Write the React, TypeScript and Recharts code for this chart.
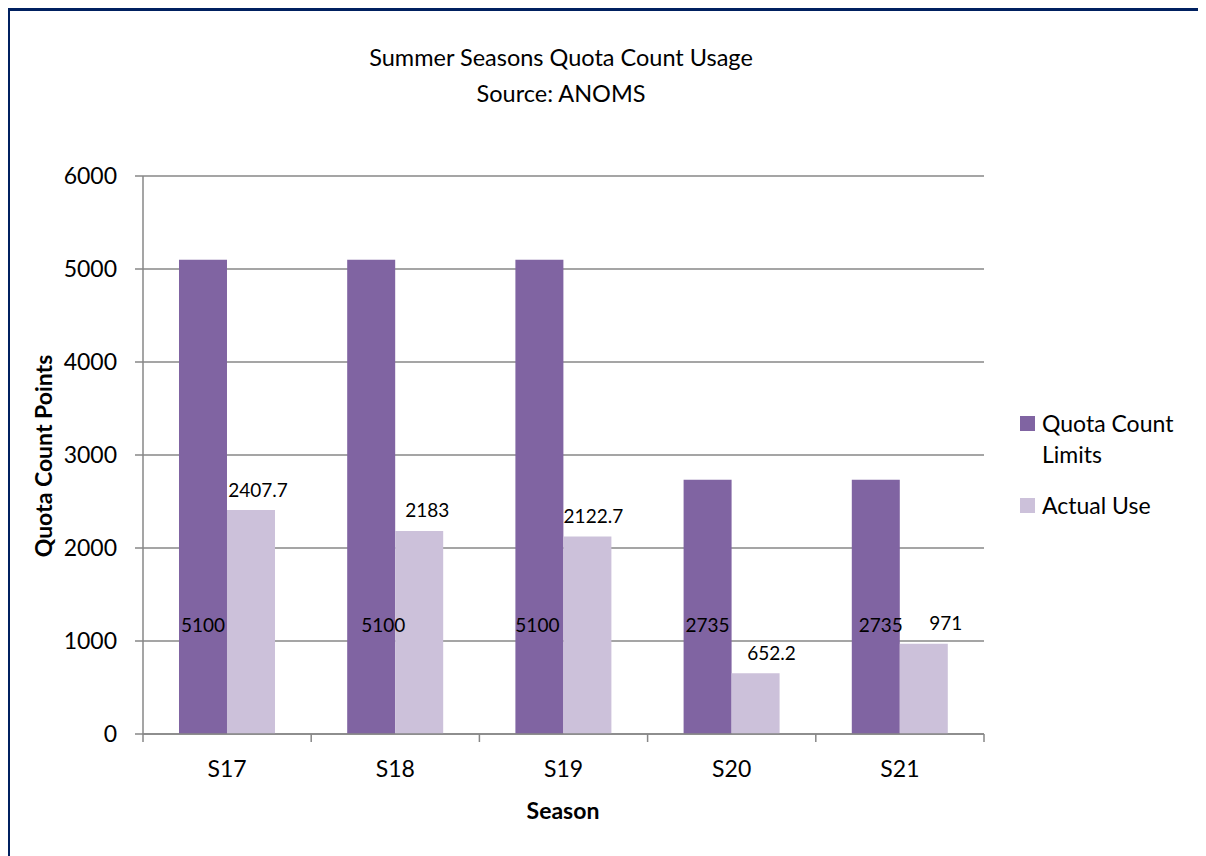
import React from 'react';
import { BarChart, Bar, XAxis, YAxis, CartesianGrid, LabelList } from 'recharts';

// chart values
const seasons = ['S17', 'S18', 'S19', 'S20', 'S21'];
const quotaLimits = [5100, 5100, 5100, 2735, 2735];
const actualUse = [2407.7, 2183, 2122.7, 652.2, 971];
const yTicks = [0, 1000, 2000, 3000, 4000, 5000, 6000];

// small nudges of the data labels, as in the original
const limitLabelShift = [0, 12, -2, 0, 5];
const actualLabelShift = [7, 8, 6, 16, 22];

const data = seasons.map((s, i) => ({ season: s, limit: quotaLimits[i], actual: actualUse[i] }));

const FONT = 'Lato, "Open Sans", sans-serif';
const PURPLE = '#8064A2';
const LILAC = '#CCC1DA';
const GRID = '#878787';

const W = 1195;
const H = 837;
const Y_W = 80;
const X_H = 40;
const margin = { top: 165, right: 221, bottom: 74, left: 53 };
const band = (W - margin.left - Y_W - margin.right) / seasons.length;

const SeasonTick = (props: any) => {
  const { x, y, payload, index } = props;
  const left = x - band / 2;
  const right = x + band / 2;
  return (
    <g>
      <line x1={left} y1={y} x2={left} y2={y + 8} stroke={GRID} strokeWidth={1.5} />
      {index === seasons.length - 1 && (
        <line x1={right} y1={y} x2={right} y2={y + 8} stroke={GRID} strokeWidth={1.5} />
      )}
      <text x={x} y={y + 34} textAnchor="middle" dominantBaseline="central" fontSize={23} fill="#000" fontFamily={FONT}>
        {payload.value}
      </text>
    </g>
  );
};

const LimitLabel = (props: any) => {
  const { x, y, width, height, value, index } = props;
  return (
    <text
      x={x + width / 2 + limitLabelShift[index]}
      y={y + height - 110}
      textAnchor="middle"
      dominantBaseline="central"
      fontSize={19}
      fontFamily={FONT}
      fill="#000"
    >
      {value}
    </text>
  );
};

const ActualLabel = (props: any) => {
  const { x, y, width, value, index } = props;
  return (
    <text
      x={x + width / 2 + actualLabelShift[index]}
      y={y - 21}
      textAnchor="middle"
      dominantBaseline="central"
      fontSize={19}
      fontFamily={FONT}
      fill="#000"
    >
      {value}
    </text>
  );
};

export default function App() {
  return (
    <div
      style={{
        position: 'relative',
        width: 1206,
        height: 860,
        marginLeft: -1,
        boxSizing: 'border-box',
        borderTop: '3px solid #002060',
        borderLeft: '3px solid #002060',
        fontFamily: FONT,
        background: '#fff',
      }}
    >
      <style>{'html,body{overflow:hidden}'}</style>
      {/* title */}
      <div
        style={{
          position: 'absolute',
          left: 551 - 300,
          top: 28,
          width: 600,
          textAlign: 'center',
          fontSize: 23.5,
          lineHeight: '36px',
          color: '#000',
        }}
      >
        <div>Summer Seasons Quota Count Usage</div>
        <div>Source: ANOMS</div>
      </div>

      <BarChart
        width={W}
        height={H}
        data={data}
        margin={margin}
        barGap={0}
        barCategoryGap="21.4%"
      >
        <CartesianGrid vertical={false} stroke={GRID} strokeWidth={1.5} />
        <XAxis
          dataKey="season"
          height={X_H}
          axisLine={{ stroke: GRID, strokeWidth: 1.5 }}
          tickLine={false}
          tickSize={0}
          tickMargin={0}
          tick={<SeasonTick />}
          interval={0}
        />
        <YAxis
          width={Y_W}
          domain={[0, 6000]}
          ticks={yTicks}
          interval={0}
          axisLine={{ stroke: GRID, strokeWidth: 1.5 }}
          tickLine={{ stroke: GRID, strokeWidth: 1.5 }}
          tickSize={8}
          tickMargin={18}
          tick={{ fontSize: 23, fill: '#000', fontFamily: FONT }}
        />
        <Bar dataKey="limit" name="Quota Count Limits" fill={PURPLE} isAnimationActive={false}>
          <LabelList dataKey="limit" content={<LimitLabel />} />
        </Bar>
        <Bar dataKey="actual" name="Actual Use" fill={LILAC} isAnimationActive={false}>
          <LabelList dataKey="actual" content={<ActualLabel />} />
        </Bar>
      </BarChart>

      {/* y axis title */}
      <div
        style={{
          position: 'absolute',
          left: 33,
          top: 445,
          transform: 'translate(-50%, -50%) rotate(-90deg)',
          whiteSpace: 'nowrap',
          fontSize: 23,
          fontWeight: 700,
          color: '#000',
        }}
      >
        Quota Count Points
      </div>

      {/* x axis title */}
      <div
        style={{
          position: 'absolute',
          left: 553,
          top: 799,
          transform: 'translate(-50%, -50%)',
          whiteSpace: 'nowrap',
          fontSize: 23,
          fontWeight: 700,
          color: '#000',
        }}
      >
        Season
      </div>

      {/* legend */}
      <div style={{ position: 'absolute', left: 1010, top: 397, display: 'flex', alignItems: 'flex-start' }}>
        <div style={{ width: 15, height: 15, background: PURPLE, marginTop: 8, marginRight: 7 }} />
        <div style={{ fontSize: 23, lineHeight: '31px', color: '#000' }}>
          Quota Count
          <br />
          Limits
        </div>
      </div>
      <div style={{ position: 'absolute', left: 1010, top: 479, display: 'flex', alignItems: 'flex-start' }}>
        <div style={{ width: 15, height: 15, background: LILAC, marginTop: 8, marginRight: 7 }} />
        <div style={{ fontSize: 23, lineHeight: '31px', color: '#000' }}>Actual Use</div>
      </div>
    </div>
  );
}
